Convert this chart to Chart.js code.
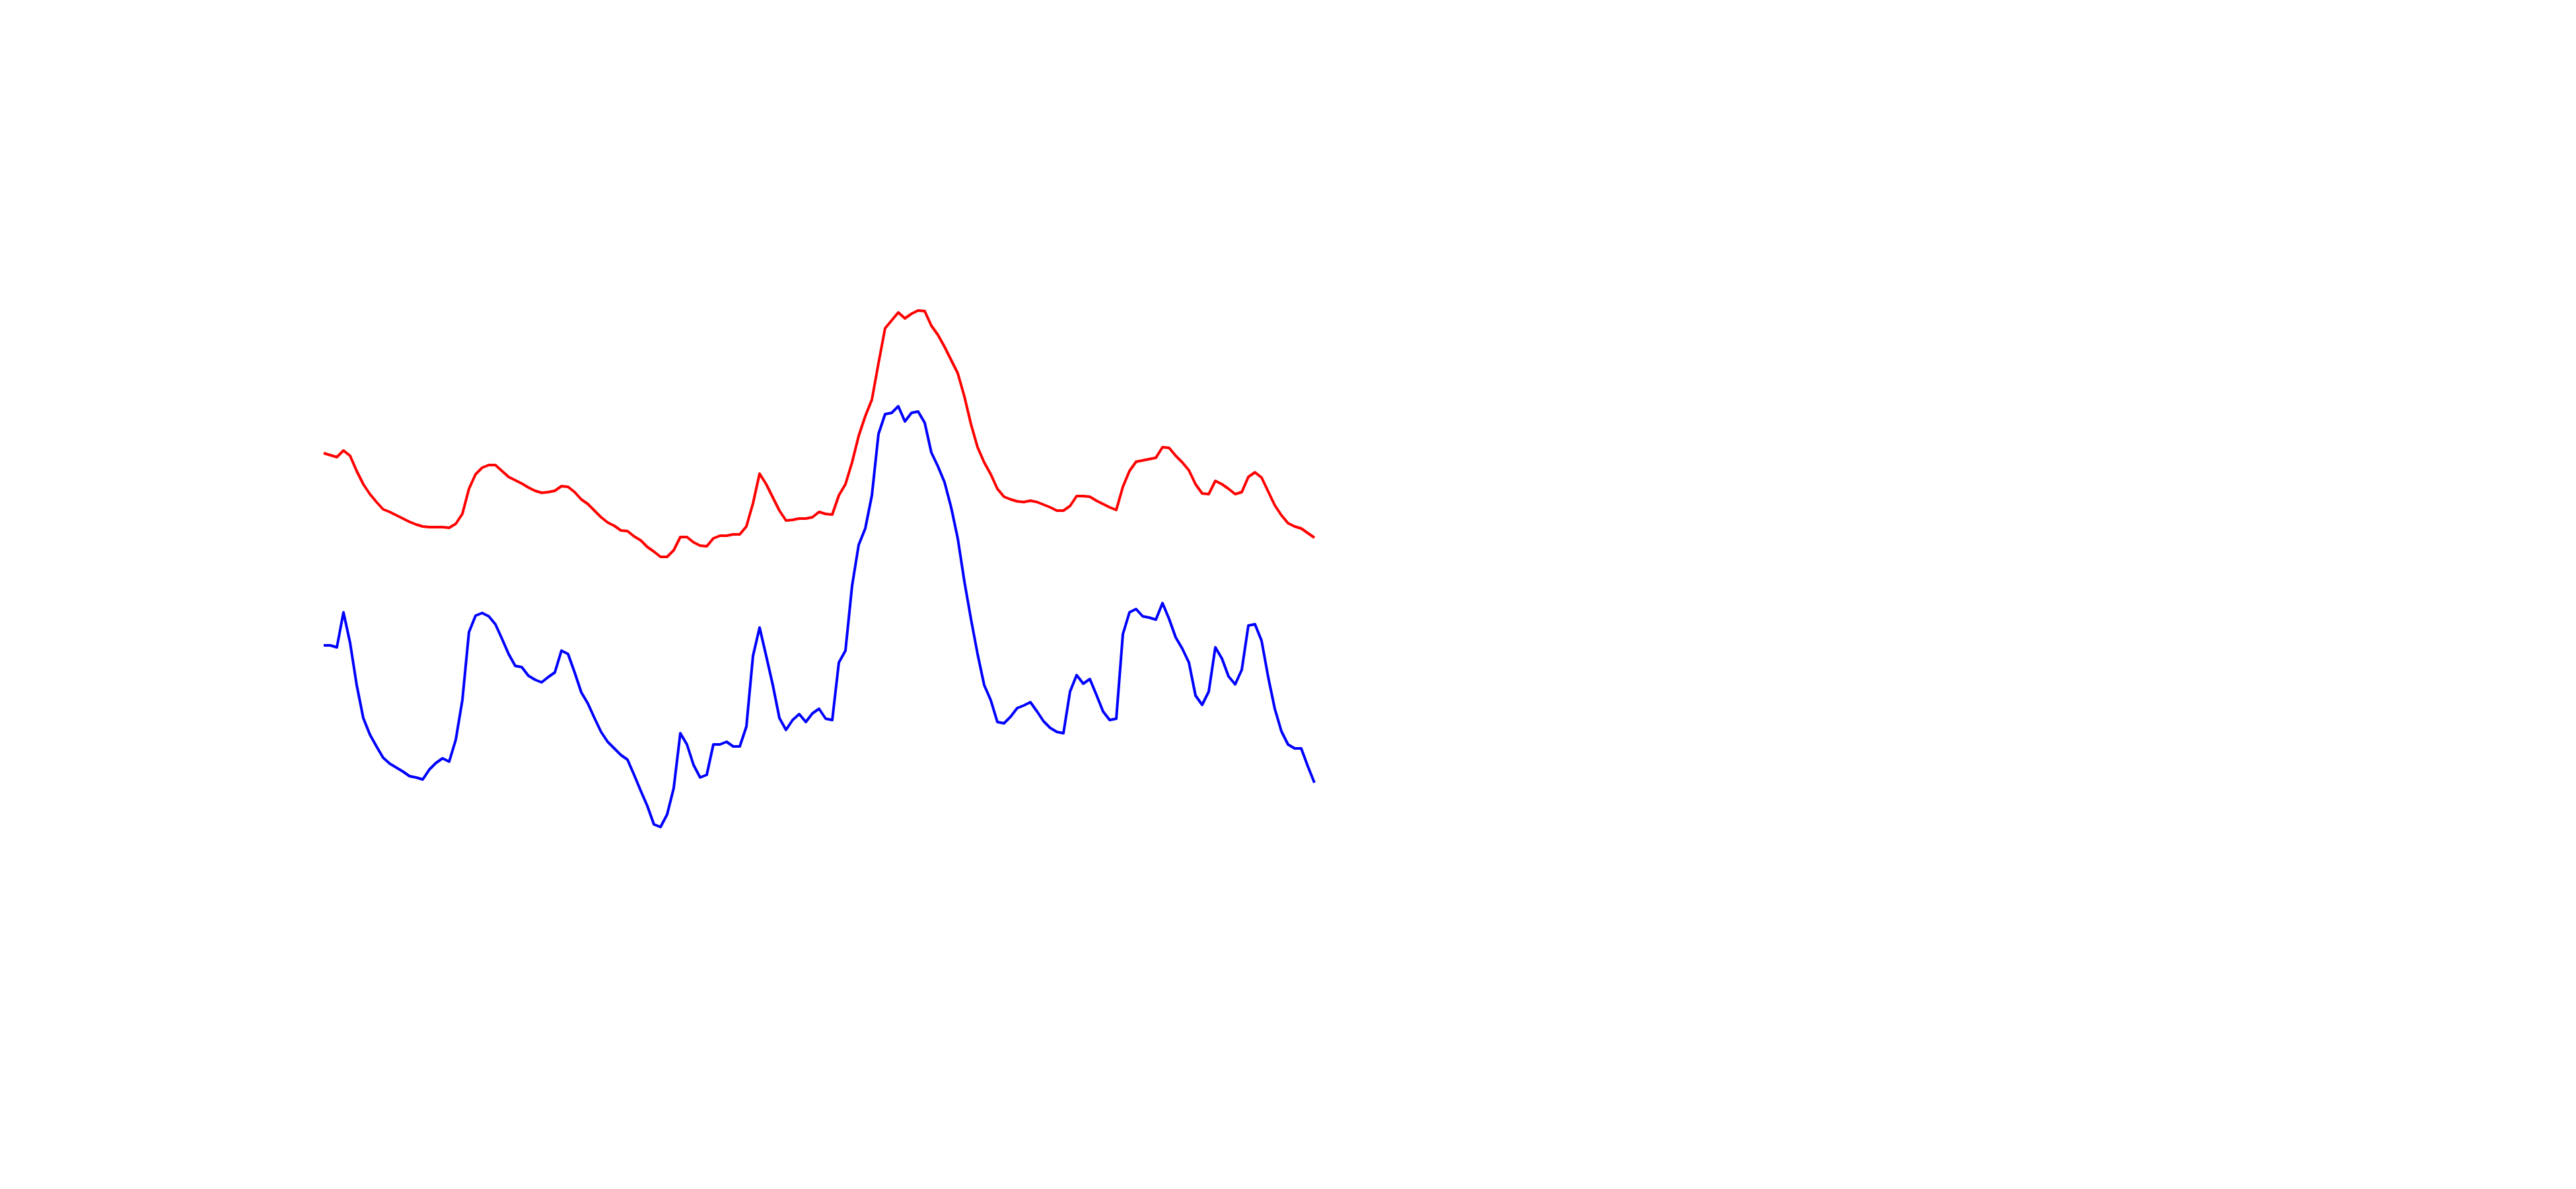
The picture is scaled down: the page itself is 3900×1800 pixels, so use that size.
<!DOCTYPE html>
<html>
<head>
<meta charset="utf-8">
<script src="https://cdn.jsdelivr.net/npm/chart.js@4/dist/chart.umd.min.js"></script>
<style>
  html, body { margin: 0; padding: 0; background: #ffffff; }
  #wrap { width: 3900px; height: 1800px; position: relative; }
</style>
</head>
<body>
<div id="wrap"><canvas id="c"></canvas></div>
<script>
// Sample index (evenly spaced readings)
const categories = Array.from({ length: 151 }, (_, i) => String(i));

// Upper (red) series
const redSeries = [
  111.4, 111.1, 110.8, 111.8, 111.0, 108.7, 106.7, 105.2, 104.0, 102.9,
  102.5, 102.0, 101.5, 101.0, 100.6, 100.3, 100.2, 100.2, 100.2, 100.1,
  100.7, 102.2, 106.0, 108.2, 109.2, 109.6, 109.6, 108.7, 107.8, 107.3,
  106.8, 106.2, 105.7, 105.4, 105.5, 105.7, 106.4, 106.3, 105.5, 104.4,
  103.7, 102.7, 101.7, 100.9, 100.4, 99.7, 99.6, 98.8, 98.2, 97.2,
  96.5, 95.7, 95.7, 96.7, 98.7, 98.7, 97.9, 97.4, 97.3, 98.5,
  98.9, 98.9, 99.1, 99.1, 100.3, 103.8, 108.3, 106.7, 104.7, 102.7,
  101.2, 101.3, 101.5, 101.5, 101.7, 102.5, 102.2, 102.1, 105.0, 106.7,
  110.0, 114.0, 117.0, 119.5, 125.0, 130.3, 131.5, 132.7, 131.8, 132.5,
  133.0, 132.9, 130.7, 129.3, 127.5, 125.5, 123.5, 120.0, 115.8, 112.3,
  110.0, 108.2, 106.0, 104.8, 104.4, 104.1, 104.0, 104.2, 104.0, 103.6,
  103.2, 102.7, 102.7, 103.4, 104.9, 104.9, 104.8, 104.2, 103.7, 103.2,
  102.8, 106.3, 108.7, 110.1, 110.3, 110.5, 110.7, 112.3, 112.2, 111.0,
  110.0, 108.8, 106.7, 105.3, 105.2, 107.2, 106.7, 106.0, 105.2, 105.5,
  107.8, 108.5, 107.7, 105.6, 103.5, 102.0, 100.8, 100.3, 100.0, 99.3,
  98.6
];

// Lower (blue) series
const blueSeries = [
  82.3, 82.3, 82.0, 87.3, 82.7, 76.3, 71.3, 68.8, 67.0, 65.3,
  64.4, 63.8, 63.2, 62.5, 62.3, 62.0, 63.5, 64.5, 65.2, 64.7,
  68.0, 74.0, 84.3, 86.8, 87.2, 86.7, 85.5, 83.3, 81.0, 79.2,
  79.0, 77.7, 77.1, 76.7, 77.5, 78.2, 81.5, 81.0, 78.2, 75.2,
  73.5, 71.3, 69.2, 67.7, 66.7, 65.7, 65.0, 62.7, 60.3, 58.0,
  55.2, 54.8, 56.7, 60.7, 69.0, 67.3, 64.2, 62.3, 62.7, 67.3,
  67.3, 67.7, 67.0, 67.0, 70.0, 80.7, 85.0, 80.7, 76.3, 71.3,
  69.5, 71.0, 71.9, 70.7, 72.0, 72.7, 71.2, 71.0, 79.7, 81.5,
  91.3, 97.5, 100.0, 105.0, 114.3, 117.3, 117.5, 118.5, 116.2, 117.5,
  117.7, 116.0, 111.5, 109.4, 107.0, 103.2, 98.5, 92.0, 86.3, 81.0,
  76.3, 74.0, 70.7, 70.5, 71.5, 72.8, 73.2, 73.7, 72.3, 70.8,
  69.8, 69.2, 69.0, 75.3, 77.8, 76.5, 77.2, 74.8, 72.3, 71.0,
  71.2, 84.0, 87.3, 87.8, 86.7, 86.5, 86.2, 88.7, 86.3, 83.5,
  81.8, 79.7, 74.7, 73.3, 75.3, 82.0, 80.3, 77.6, 76.4, 78.6,
  85.3, 85.5, 83.0, 77.5, 72.7, 69.3, 67.3, 66.7, 66.7, 64.0,
  61.5
];

const yMin = 0;
const yMax = 180;

if (redSeries.length !== categories.length || blueSeries.length !== categories.length) {
  throw new Error('length mismatch: red ' + redSeries.length + ' blue ' + blueSeries.length);
}

new Chart(document.getElementById('c'), {
  type: 'line',
  data: {
    labels: categories,
    datasets: [
      { label: 'red', data: redSeries, borderColor: '#ff0000', borderWidth: 4,
        borderJoinStyle: 'round', pointRadius: 0, tension: 0, fill: false },
      { label: 'blue', data: blueSeries, borderColor: '#0000ff', borderWidth: 4,
        borderJoinStyle: 'round', pointRadius: 0, tension: 0, fill: false }
    ]
  },
  options: {
    responsive: true,
    maintainAspectRatio: false,
    animation: false,
    events: [],
    layout: { padding: { left: 490, right: 1910, top: 0, bottom: 0 } },
    plugins: { legend: { display: false }, tooltip: { enabled: false }, title: { display: false } },
    scales: {
      x: { type: 'category', display: false, offset: false },
      y: { display: false, min: yMin, max: yMax }
    }
  }
});
</script>
</body>
</html>
